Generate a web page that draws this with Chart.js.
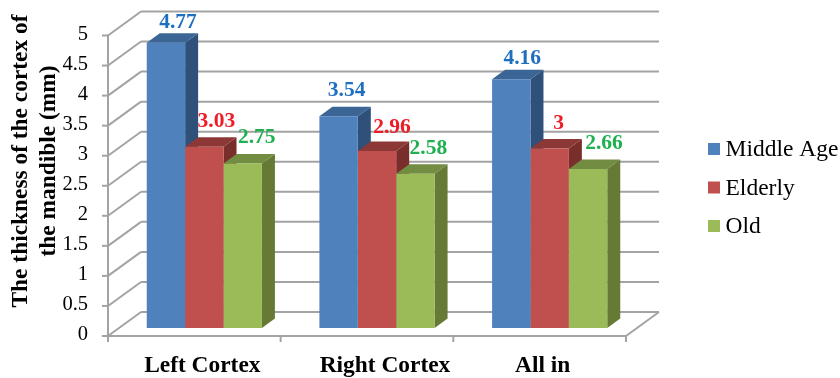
<!DOCTYPE html>
<html>
<head>
<meta charset="utf-8">
<style>
  html, body { margin: 0; padding: 0; background: #fff; }
</style>
<script src="https://cdn.jsdelivr.net/npm/chart.js@4"></script>
</head>
<body>
<canvas id="thicknessChart" width="840" height="378"></canvas>
<script>
const categories = ['Left Cortex', 'Right Cortex', 'All in'];
const middleAge = [4.77, 3.54, 4.16];
const elderly = [3.03, 2.96, 3];
const old = [2.75, 2.58, 2.66];
const yTicks = [0, 0.5, 1, 1.5, 2, 2.5, 3, 3.5, 4, 4.5, 5];
const titleLines = ['The thickness of the cortex of', 'the mandible (mm)'];

const serif = '"Liberation Serif", serif';
const gridColor = '#a3a3a3';

// depth of the whole box and depth of one bar, in pixels
const WALL_DX = 33, WALL_DY = 24;
const BAR_DX = 13, BAR_DY = 9.5;
const BAR_SHIFT_X = 10;

const faces = [
    { front: '#4f81bd', top: '#3b6595', side: '#2f5079', label: '#1f6fc0' },
    { front: '#c0504d', top: '#8c3836', side: '#7a2e2c', label: '#ee1c25' },
    { front: '#9bbb59', top: '#728c42', side: '#667a35', label: '#1fb050' }
];

// hand placed offsets for the value labels, per series and category
const labelShift = [
    [[12, 5], [8, 0], [11, 5]],
    [[12, 0], [15, 2], [9, 0]],
    [[14, 0], [13, 0], [16, 0]]
];
// category labels are not quite centred under their ticks
const categoryShift = [8, 18, 3];

function line(ctx, x1, y1, x2, y2) {
    ctx.beginPath();
    ctx.moveTo(x1, y1);
    ctx.lineTo(x2, y2);
    ctx.stroke();
}

function quad(ctx, pts, color) {
    ctx.fillStyle = color;
    ctx.beginPath();
    pts.forEach(([x, y], i) => i ? ctx.lineTo(x, y) : ctx.moveTo(x, y));
    ctx.closePath();
    ctx.fill();
}

const boxPlugin = {
    id: 'box3d',
    beforeDatasetsDraw(chart) {
        const { ctx, chartArea, scales } = chart;
        const { left, right, bottom } = chartArea;
        ctx.save();
        ctx.strokeStyle = gridColor;
        ctx.lineWidth = 2;
        yTicks.forEach(v => {
            const y = scales.y.getPixelForValue(v);
            line(ctx, left - 6, y, left, y);
            line(ctx, left, y, left + WALL_DX, y - WALL_DY);
            line(ctx, left + WALL_DX, y - WALL_DY, right + WALL_DX, y - WALL_DY);
        });
        line(ctx, left, scales.y.getPixelForValue(5), left, bottom + 6);
        line(ctx, left, bottom, right, bottom);
        line(ctx, right, bottom, right + WALL_DX, bottom - WALL_DY);
        for (let i = 0; i <= categories.length; i++) {
            const x = left + (right - left) * i / categories.length;
            line(ctx, x, bottom, x, bottom + 6);
        }
        ctx.restore();

        // top and side faces go under all the front faces
        chart.data.datasets.forEach((ds, i) => {
            chart.getDatasetMeta(i).data.forEach(bar => {
                const x1 = bar.x - bar.width / 2 + BAR_SHIFT_X;
                const x2 = bar.x + bar.width / 2 + BAR_SHIFT_X;
                quad(ctx, [[x2, bar.y], [x2 + BAR_DX, bar.y - BAR_DY], [x2 + BAR_DX, bar.base - BAR_DY], [x2, bar.base]], faces[i].side);
                quad(ctx, [[x1, bar.y], [x2, bar.y], [x2 + BAR_DX, bar.y - BAR_DY], [x1 + BAR_DX, bar.y - BAR_DY]], faces[i].top);
            });
        });
    },
    beforeDatasetDraw(chart) {
        chart.ctx.save();
        chart.ctx.translate(BAR_SHIFT_X, 0);
    },
    afterDatasetDraw(chart) {
        chart.ctx.restore();
    },
    afterDatasetsDraw(chart) {
        const { ctx, scales } = chart;
        ctx.save();
        ctx.textBaseline = 'alphabetic';

        // value labels
        ctx.font = 'bold 21.5px ' + serif;
        ctx.textAlign = 'center';
        chart.data.datasets.forEach((ds, i) => {
            ctx.fillStyle = faces[i].label;
            chart.getDatasetMeta(i).data.forEach((bar, j) => {
                const [dx, dy] = labelShift[i][j];
                ctx.fillText(String(ds.data[j]), bar.x + BAR_SHIFT_X + dx, bar.y - 20 + dy);
            });
        });

        // category labels
        ctx.fillStyle = '#000';
        ctx.font = 'bold 23.4px ' + serif;
        categories.forEach((name, i) => {
            ctx.fillText(name, scales.x.getPixelForTick(i) + categoryShift[i], 371.5);
        });

        // rotated y axis title, it sits higher than the axis centre
        ctx.font = 'bold 23.4px ' + serif;
        titleLines.forEach((text, i) => {
            ctx.save();
            ctx.translate(26.5 + i * 28, 161);
            ctx.rotate(-Math.PI / 2);
            ctx.fillText(text, 0, 0);
            ctx.restore();
        });

        // legend
        ctx.textAlign = 'left';
        ctx.font = '23.5px ' + serif;
        chart.data.datasets.forEach((ds, i) => {
            const y = 149 + i * 38.5;
            ctx.fillStyle = faces[i].front;
            ctx.fillRect(708, y - 6, 12, 12);
            ctx.fillStyle = '#000';
            ctx.fillText(ds.label, 725.5, y + 7);
        });
        ctx.restore();
    }
};

new Chart(document.getElementById('thicknessChart'), {
    type: 'bar',
    data: {
        labels: categories,
        datasets: [
            { label: 'Middle Age', data: middleAge, backgroundColor: faces[0].front, yAxisID: 'barY' },
            { label: 'Elderly', data: elderly, backgroundColor: faces[1].front, yAxisID: 'barY' },
            { label: 'Old', data: old, backgroundColor: faces[2].front, yAxisID: 'barY' }
        ]
    },
    options: {
        responsive: false,
        animation: false,
        layout: { padding: { top: 35.5, left: 0, right: 0, bottom: 0 } },
        datasets: { bar: { categoryPercentage: 0.667, barPercentage: 1 } },
        scales: {
            x: {
                grid: { display: false },
                border: { display: false },
                ticks: { display: false },
                afterFit(scale) { scale.height = 42; }
            },
            y: {
                min: 0,
                max: 5,
                grid: { display: false },
                border: { display: false },
                afterBuildTicks(scale) { scale.ticks = yTicks.map(value => ({ value })); },
                ticks: {
                    color: '#000',
                    font: { family: serif, size: 20.5 },
                    padding: 12,
                    labelOffset: -1,
                    callback: value => String(value)
                },
                afterFit(scale) { scale.width = 108; }
            },
            // the plane the bars stand on sits a little behind the front axes
            barY: {
                position: 'right',
                min: -0.134,
                max: 4.89,
                grid: { display: false },
                border: { display: false },
                ticks: { display: false },
                afterFit(scale) { scale.width = 214; }
            }
        },
        plugins: {
            legend: { display: false },
            tooltip: { enabled: false }
        }
    },
    plugins: [boxPlugin]
});
</script>
</body>
</html>
